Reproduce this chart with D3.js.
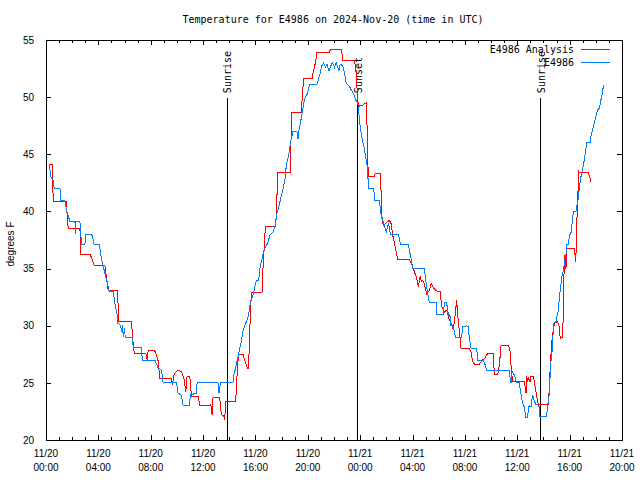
<!DOCTYPE html>
<html>
<head>
<meta charset="utf-8">
<script src="https://cdn.jsdelivr.net/npm/d3@7"></script>
<style>
html,body{margin:0;padding:0;background:#fff;}
svg{display:block;}
</style>
</head>
<body>
<svg id="chart" width="640" height="480"></svg>
<script>
const title = "Temperature for E4986 on 2024-Nov-20 (time in UTC)";
const yLabel = "degrees F";
const seriesNames = ["E4986 Analysis", "E4986"];
const seriesColors = ["#ff0000", "#0080ff"];
const yTicks = [20, 25, 30, 35, 40, 45, 50, 55];
const xTickHours = [0, 4, 8, 12, 16, 20, 24, 28, 32, 36, 40, 44];
const xTickDates = ["11/20","11/20","11/20","11/20","11/20","11/20","11/21","11/21","11/21","11/21","11/21","11/21"];
const xTickTimes = ["00:00","04:00","08:00","12:00","16:00","20:00","00:00","04:00","08:00","12:00","16:00","20:00"];
const sunLabels = ["Sunrise", "Sunset", "Sunrise"];
const sunHours = [13.83, 23.82, 37.78];

// hours since 2024-11-20 00:00 UTC
const redHours = [0.25,0.48,0.50,0.56,1.53,1.70,2.59,2.67,3.36,3.50,3.68,4.50,4.75,5.47,5.55,6.54,6.61,6.74,7.63,7.73,7.80,8.31,8.45,8.57,8.70,9.59,9.66,9.79,10.09,10.35,10.53,10.68,10.78,10.98,11.11,11.62,11.75,12.51,12.59,12.69,12.76,13.27,13.40,13.58,13.65,13.73,14.47,14.55,14.62,14.72,15.05,15.18,15.31,15.43,15.51,15.56,15.64,15.69,16.50,16.58,16.65,16.76,17.54,17.59,17.64,17.72,18.69,18.74,19.50,19.58,19.68,20.34,20.39,20.60,20.69,21.66,21.72,22.56,22.68,23.57,23.70,23.82,23.95,24.18,24.46,24.54,24.59,24.66,25.09,25.15,25.55,25.61,25.68,25.80,26.06,26.24,26.37,26.49,26.62,26.75,26.87,27.76,27.84,27.97,28.09,28.27,28.40,28.45,28.58,28.66,28.78,28.91,29.08,29.29,29.42,29.67,29.92,30.10,30.23,30.43,30.66,30.74,30.97,31.07,31.12,31.27,31.37,31.45,31.58,31.71,32.34,32.47,32.59,32.72,33.10,33.23,33.36,33.56,33.74,34.17,34.25,34.50,34.58,34.68,34.76,35.34,35.45,35.55,35.64,36.54,36.59,36.67,36.71,36.79,36.86,36.97,37.05,37.22,37.30,37.43,37.55,37.63,38.37,38.44,38.54,38.65,38.75,38.83,39.08,39.21,39.28,39.46,39.51,39.56,39.64,39.72,39.78,40.35,40.40,40.45,40.52,40.58,40.66,40.68,40.73,41.42,41.50,41.57,41.62];
const redTemps = [44.1,44.1,42.75,40.9,40.9,38.5,38.5,36.25,36.25,35.9,35.3,35.3,33.1,33.1,30.35,30.35,28.9,27.6,27.6,27.0,27.8,27.8,27.4,26.9,25.4,25.4,24.8,25.8,26.1,26.0,25.4,24.2,25.6,25.6,23.85,23.85,23.0,23.0,23.1,22.2,23.7,23.7,22.2,22.1,21.8,23.35,23.35,24.4,26.4,27.5,27.5,27.0,26.5,26.2,27.6,29.5,31.8,32.9,32.9,35.1,36.5,38.7,38.7,39.8,41.3,43.4,43.4,48.7,48.7,50.0,51.65,51.65,52.1,53.1,53.9,53.9,54.2,54.2,53.25,53.25,52.0,49.6,49.2,49.3,49.5,47.0,44.0,43.1,43.1,43.3,43.3,41.3,39.1,38.8,39.1,39.2,38.9,37.9,37.2,36.5,35.8,35.8,35.6,35.3,34.9,34.3,33.7,33.4,34.3,33.9,34.0,33.6,32.8,33.1,33.7,33.2,33.0,33.0,31.7,31.2,31.4,30.65,30.2,29.8,29.7,31.1,32.25,31.0,29.4,28.0,28.0,27.7,26.85,26.65,26.65,26.85,27.0,27.2,27.6,27.6,25.7,25.7,26.1,27.2,28.3,28.3,27.8,26.1,25.1,25.1,24.7,24.1,25.6,25.1,25.4,25.1,25.6,25.6,25.1,24.2,23.35,23.1,23.1,24.4,26.85,28.7,29.6,30.2,30.35,29.9,28.9,29.0,30.8,34.3,36.2,35.0,36.8,36.8,36.3,35.6,37.1,40.4,42.2,43.6,43.4,43.4,43.1,42.9,42.6];

const blueHours = [0.25,0.38,0.56,0.63,1.07,1.12,1.40,1.50,1.60,1.83,2.21,2.27,2.29,2.59,2.72,2.97,3.05,3.49,3.61,3.68,4.07,4.20,4.35,4.63,4.83,5.13,5.26,5.42,5.47,5.65,5.80,5.85,5.90,6.00,6.05,6.61,6.66,7.30,7.35,8.31,8.57,8.83,8.95,9.97,10.09,10.35,10.47,10.93,11.04,11.49,11.54,13.14,13.22,13.33,14.28,14.34,14.47,14.67,14.80,14.93,15.05,15.18,15.36,15.48,15.61,15.74,15.89,15.99,16.07,16.25,16.32,16.45,16.53,16.65,16.76,16.88,17.01,17.09,17.34,17.52,17.64,17.77,17.90,17.97,18.10,18.28,18.36,18.54,18.67,18.86,19.17,19.25,19.30,19.45,19.63,19.76,19.93,20.14,20.69,20.82,20.95,21.05,21.21,21.36,21.46,21.61,21.74,21.87,22.04,22.17,22.37,22.48,22.68,22.81,22.93,23.19,23.39,23.52,23.65,23.82,23.90,24.00,24.16,24.28,24.41,24.54,24.59,24.66,25.04,25.10,25.48,25.54,25.66,25.81,25.91,25.99,26.09,26.17,26.30,26.93,27.00,27.08,27.69,27.77,27.89,28.02,28.91,28.99,29.16,29.29,29.80,29.85,30.36,30.43,30.61,30.69,30.87,30.94,31.12,31.27,31.75,31.83,32.14,32.26,32.34,32.47,32.90,32.98,33.36,33.49,33.66,35.39,35.45,35.52,35.60,35.77,35.95,36.15,36.28,36.41,36.53,36.66,36.79,36.86,36.97,37.05,37.17,37.30,37.43,37.55,37.68,37.73,38.24,38.31,38.44,38.49,38.57,38.65,38.70,38.78,38.83,38.96,39.03,39.16,39.21,39.33,39.41,39.54,39.60,39.72,39.77,39.92,39.97,40.10,40.19,40.29,40.48,40.53,40.64,40.76,40.86,40.99,41.12,41.24,41.32,41.57,41.62,41.74,41.88,42.00,42.13,42.26,42.39,42.51,42.59];
const blueTemps = [44.1,43.0,42.7,42.0,42.0,41.0,41.0,40.6,40.0,39.1,39.1,38.0,39.1,39.1,37.1,37.1,38.0,38.0,37.5,37.1,37.1,36.1,35.3,34.0,33.0,33.0,32.0,31.1,30.2,30.1,29.5,30.1,29.0,29.8,29.0,29.0,28.1,28.1,27.0,27.0,26.3,26.1,25.0,25.0,24.1,23.9,23.0,23.0,23.95,24.1,25.0,25.0,24.1,25.0,25.0,25.7,26.2,27.3,28.0,28.7,29.5,30.0,30.5,31.0,32.0,32.4,33.0,33.6,34.0,34.0,34.9,35.6,36.0,36.6,36.9,37.1,37.5,37.9,38.2,38.8,39.8,40.3,41.0,41.4,41.9,43.0,44.1,44.9,46.0,47.0,47.0,46.3,47.0,47.85,49.0,49.9,50.2,51.1,51.1,51.6,52.1,52.7,53.0,52.6,52.9,52.3,52.7,53.0,52.6,53.0,52.3,52.9,52.7,52.1,51.2,50.9,50.5,50.2,49.75,49.5,48.6,47.4,46.25,45.7,44.9,43.9,43.0,42.0,42.0,41.0,41.0,40.1,39.4,38.95,38.5,38.2,38.6,39.0,38.0,38.0,37.6,37.1,37.1,36.5,35.9,35.0,35.0,34.1,32.8,32.0,32.0,31.0,31.0,32.0,32.0,31.2,30.8,30.0,29.95,29.0,29.0,29.9,30.0,29.9,28.9,28.0,28.0,27.0,27.0,26.8,26.1,26.1,25.5,25.0,26.0,25.7,25.0,25.0,24.1,23.2,22.9,22.0,22.0,22.9,23.0,22.9,23.95,23.4,23.1,23.1,22.9,22.1,22.1,22.9,23.95,25.25,26.85,27.6,28.5,30.2,30.3,30.35,30.8,31.4,32.5,33.55,34.3,34.9,35.6,36.2,37.1,37.1,37.9,38.1,38.95,40.0,40.0,40.4,41.0,42.2,43.0,43.7,44.5,45.5,46.05,46.05,46.5,47.1,47.7,48.3,48.9,49.0,49.75,50.4,51.1];

const svg = d3.select("#chart");
const margin = {left: 46, right: 18, top: 40, bottom: 40};
const W = 640, H = 480;
const x = d3.scaleLinear().domain([0, 44]).range([margin.left, W - margin.right]);
const y = d3.scaleLinear().domain([20, 55]).range([H - margin.bottom, margin.top]);
const monoFont = "'DejaVu Sans Mono', monospace";
const sansFont = "'Liberation Sans', Arial, sans-serif";

// title
svg.append("text").attr("x", 333).attr("y", 23).attr("text-anchor", "middle")
  .attr("font-family", monoFont).attr("font-size", 10).text(title);

// y axis label
svg.append("text").attr("transform", "translate(14,244) rotate(-90)")
  .attr("text-anchor", "middle").attr("font-family", sansFont).attr("font-size", 10).text(yLabel);

const axG = svg.append("g").attr("shape-rendering", "crispEdges");
const minorHours = d3.range(0, 45, 1);

// bottom axis (ticks inward)
const axBottom = axG.append("g").attr("transform", `translate(0,${y(20)})`)
  .call(d3.axisBottom(x).tickValues(minorHours).tickSize(-3).tickFormat(""));
axBottom.select(".domain").remove();
axBottom.selectAll(".tick").filter(d => d % 4 === 0).select("line").attr("y2", -5);
// top axis (ticks inward)
const axTop = axG.append("g").attr("transform", `translate(0,${y(55)})`)
  .call(d3.axisTop(x).tickValues(minorHours).tickSize(-3).tickFormat(""));
axTop.select(".domain").remove();
axTop.selectAll(".tick").filter(d => d % 4 === 0).select("line").attr("y2", 5);
// left axis
const axLeft = axG.append("g").attr("transform", `translate(${x(0)},0)`)
  .call(d3.axisLeft(y).tickValues(yTicks).tickSize(-5).tickPadding(12).tickFormat(d3.format("d")));
axLeft.select(".domain").remove();
axLeft.selectAll("text").attr("font-family", sansFont).attr("font-size", 10).attr("fill", "#000");
// right axis
const axRight = axG.append("g").attr("transform", `translate(${x(44)},0)`)
  .call(d3.axisRight(y).tickValues(yTicks).tickSize(-5).tickFormat(""));
axRight.select(".domain").remove();
axG.selectAll(".tick line").attr("stroke", "#000");

// x tick labels (two lines)
const xl = svg.append("g");
xTickHours.forEach((h, i) => {
  const t = xl.append("text").attr("x", x(h)).attr("text-anchor", "middle")
    .attr("font-family", sansFont).attr("font-size", 10).attr("fill", "#000");
  t.append("tspan").attr("x", x(h)).attr("y", 457).text(xTickDates[i]);
  t.append("tspan").attr("x", x(h)).attr("y", 471).text(xTickTimes[i]);
});

// sunrise / sunset markers
sunHours.forEach((h, i) => {
  svg.append("line").attr("x1", x(h)).attr("x2", x(h)).attr("y1", y(49.9)).attr("y2", y(20))
    .attr("stroke", "#000").attr("stroke-width", 1).attr("shape-rendering", "crispEdges");
  svg.append("text").attr("transform", `translate(${x(h) + 4},${y(50.35)}) rotate(-90)`)
    .attr("font-family", monoFont).attr("font-size", 10).attr("text-anchor", "start").text(sunLabels[i]);
});

// data lines
const line = d3.line().x(d => x(d[0])).y(d => y(d[1]));
const nR = Math.min(redHours.length, redTemps.length);
const nB = Math.min(blueHours.length, blueTemps.length);
const redData = redHours.slice(0, nR).map((h, i) => [h, redTemps[i]]);
const blueData = blueHours.slice(0, nB).map((h, i) => [h, blueTemps[i]]);
svg.append("path").datum(redData).attr("d", line).attr("fill", "none")
  .attr("stroke", seriesColors[0]).attr("stroke-width", 1).attr("shape-rendering", "crispEdges");
svg.append("path").datum(blueData).attr("d", line).attr("fill", "none")
  .attr("stroke", seriesColors[1]).attr("stroke-width", 1).attr("shape-rendering", "crispEdges");

// border
svg.append("rect").attr("x", x(0)).attr("y", y(55)).attr("width", x(44) - x(0)).attr("height", y(20) - y(55))
  .attr("fill", "none").attr("stroke", "#000").attr("stroke-width", 1).attr("shape-rendering", "crispEdges");

// legend
seriesNames.forEach((name, i) => {
  const ly = 49 + i * 13;
  svg.append("text").attr("x", 574).attr("y", ly + 4).attr("text-anchor", "end")
    .attr("font-family", monoFont).attr("font-size", 10).text(name);
  svg.append("line").attr("x1", 581).attr("x2", 610).attr("y1", ly).attr("y2", ly)
    .attr("stroke", seriesColors[i]).attr("stroke-width", 1).attr("shape-rendering", "crispEdges");
});
</script>
</body>
</html>
